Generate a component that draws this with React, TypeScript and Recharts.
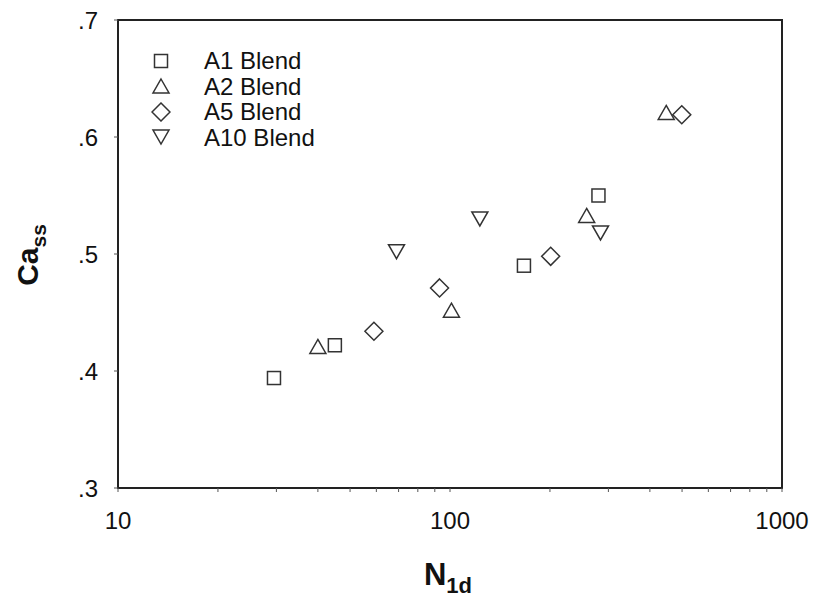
import React from "react";
import {
  ScatterChart,
  Scatter,
  XAxis,
  YAxis,
  Label,
  ReferenceArea,
} from "recharts";

// values (N1d on log axis, Ca_ss)
const a1N = [29.5, 45, 167, 280];
const a1Ca = [0.394, 0.422, 0.49, 0.55];
const a2N = [40, 101, 258, 448];
const a2Ca = [0.421, 0.452, 0.533, 0.621];
const a5N = [59, 93, 201, 499];
const a5Ca = [0.434, 0.471, 0.498, 0.619];
const a10N = [69, 123, 284];
const a10Ca = [0.502, 0.53, 0.518];

const xMajor = [10, 100, 1000];
const xMinor = [20, 30, 40, 50, 60, 70, 80, 90, 200, 300, 400, 500, 600, 700, 800, 900];
const yTicks = [0.3, 0.4, 0.5, 0.6, 0.7];

const seriesNames = ["A1 Blend", "A2 Blend", "A5 Blend", "A10 Blend"];

const toPoints = (xs: number[], ys: number[]) => xs.map((x, i) => ({ x, y: ys[i] }));

const INK = "#333";
const FONT = "'Liberation Sans', Arial, sans-serif";

const Marker = ({ kind, cx, cy }: { kind: number; cx: number; cy: number }) => {
  const common = { fill: "none", stroke: INK, strokeWidth: 1.5 };
  if (kind === 0) return <rect x={cx - 6.5} y={cy - 6.5} width={13} height={13} {...common} />;
  if (kind === 1)
    return <path d={`M ${cx} ${cy - 7} L ${cx + 8} ${cy + 7} L ${cx - 8} ${cy + 7} Z`} {...common} />;
  if (kind === 2)
    return <path d={`M ${cx} ${cy - 9} L ${cx + 9} ${cy} L ${cx} ${cy + 9} L ${cx - 9} ${cy} Z`} {...common} />;
  return <path d={`M ${cx - 8} ${cy - 7} L ${cx + 8} ${cy - 7} L ${cx} ${cy + 7} Z`} {...common} />;
};

const XTick = (props: any) => {
  const { x, y, payload } = props;
  if (!xMajor.includes(payload.value)) return null;
  return (
    <text x={x} y={y} dy="0.71em" textAnchor="middle" fontSize={24} fontFamily={FONT} fill="#111">
      {payload.value}
    </text>
  );
};

const LegendBox = () => (
  <div
    style={{
      position: "absolute",
      top: 40,
      left: 143,
      fontFamily: FONT,
      fontSize: 24,
      color: "#111",
    }}
  >
    {seriesNames.map((name, i) => (
      <div key={name} style={{ display: "flex", alignItems: "center", height: 25.5 }}>
        <svg width={20} height={20}>
          <Marker kind={i} cx={10} cy={10} />
        </svg>
        <span style={{ marginLeft: 33, lineHeight: "25px" }}>{name}</span>
      </div>
    ))}
  </div>
);

const YTitle = () => (
  <text
    x={30}
    y={247}
    transform="rotate(-90, 30, 247)"
    textAnchor="middle"
    fontFamily={FONT}
    fontWeight="bold"
    fill="#111"
  >
    <tspan fontSize={30}>Ca</tspan>
    <tspan fontSize={21} dy={8}>ss</tspan>
  </text>
);

const XTitle = () => (
  <text x={440} y={577} textAnchor="middle" fontFamily={FONT} fontWeight="bold" fill="#111">
    <tspan fontSize={31}>N</tspan>
    <tspan fontSize={22} dy={8}>1d</tspan>
  </text>
);

export default function App() {
  const data = [
    toPoints(a1N, a1Ca),
    toPoints(a2N, a2Ca),
    toPoints(a5N, a5Ca),
    toPoints(a10N, a10Ca),
  ];
  return (
    <div style={{ position: "relative", width: 810, height: 597 }}>
      <ScatterChart width={810} height={597} margin={{ top: 12, right: 36, left: 0, bottom: 0 }}>
        <ReferenceArea
          x1={10}
          x2={1000}
          y1={0.3}
          y2={0.7}
          fill="none"
          stroke="#222"
          strokeWidth={2}
          ifOverflow="visible"
        />
        <XAxis
          dataKey="x"
          type="number"
          scale="log"
          domain={[10, 1000]}
          allowDataOverflow
          ticks={[...xMajor, ...xMinor].sort((a, b) => a - b)}
          interval={0}
          height={117}
          tickSize={4}
          tickMargin={20}
          tick={<XTick />}
          axisLine={{ stroke: "#222", strokeWidth: 2 }}
          tickLine={{ stroke: "#555" }}
        >
          <Label content={<XTitle />} />
        </XAxis>
        <YAxis
          dataKey="y"
          type="number"
          domain={[0.3, 0.7]}
          ticks={yTicks}
          interval={0}
          width={110}
          tickSize={4}
          tickMargin={16}
          tickFormatter={(v: number) => v.toFixed(1).replace(/^0/, "")}
          tick={{ fontSize: 24, fontFamily: FONT, fill: "#111" }}
          axisLine={{ stroke: "#222", strokeWidth: 2 }}
          tickLine={{ stroke: "#555" }}
        >
          <Label content={<YTitle />} />
        </YAxis>
        {data.map((pts, i) => (
          <Scatter
            key={seriesNames[i]}
            name={seriesNames[i]}
            data={pts}
            isAnimationActive={false}
            shape={(p: any) => <Marker kind={i} cx={p.cx} cy={p.cy} />}
          />
        ))}
      </ScatterChart>
      <LegendBox />
    </div>
  );
}
